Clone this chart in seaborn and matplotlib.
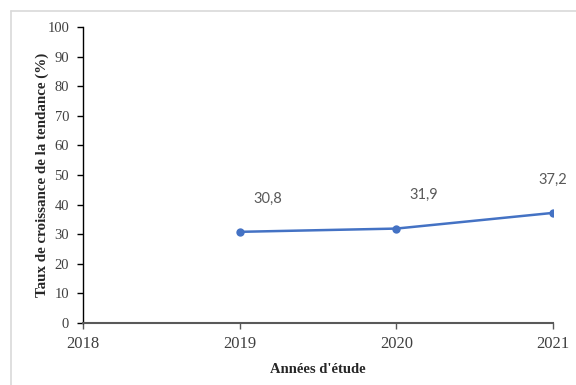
import matplotlib
matplotlib.use("Agg")
import matplotlib.pyplot as plt
import seaborn as sns
import pandas as pd
from matplotlib.lines import Line2D

years = [2019, 2020, 2021]
values = [30.8, 31.9, 37.2]
labels = ["30,8", "31,9", "37,2"]
xticks = [2018, 2019, 2020, 2021]
yticks = list(range(0, 101, 10))

sns.set_theme(style="white")
plt.rcParams['font.family'] = ['Liberation Serif', 'DejaVu Serif']

df = pd.DataFrame({"year": years, "value": values})

fig = plt.figure(figsize=(5.76, 3.85), dpi=100)
ax = fig.add_axes([83/576, 1-323/385, (553-83)/576, (323-27)/385])

sns.lineplot(data=df, x="year", y="value", ax=ax, color="#4472C4",
             linewidth=1.8, marker="o", markersize=6, markeredgewidth=0)

for x, y, t in zip(years, values, labels):
    ax.annotate(t, (x, y), xytext=(20, 24) if x != 2021 else (0, 24),
                textcoords="offset points", ha="center", va="center",
                fontsize=10.5, color="#595959", family=["Lato", "DejaVu Sans"],
                annotation_clip=False)

ax.set_xlim(2018, 2021)
ax.set_ylim(0, 100)
ax.set_xticks(xticks)
ax.set_xticklabels([str(v) for v in xticks], fontsize=12, color="#404040")
ax.set_yticks(yticks)
ax.set_yticklabels([str(v) for v in yticks], fontsize=10.5, color="#404040")

ax.set_xlabel("Années d'étude", fontsize=10.5, fontweight="bold", labelpad=8)
ax.set_ylabel("Taux de croissance de la tendance (%)", fontsize=10.8,
              fontweight="bold", labelpad=-1.5)

for s in ["top", "right"]:
    ax.spines[s].set_visible(False)
ax.spines["left"].set_color("black")
ax.spines["left"].set_linewidth(1.0)
ax.spines["bottom"].set_color("#595959")
ax.spines["bottom"].set_linewidth(1.5)
ax.tick_params(axis="y", which="both", left=True, length=4, width=1, color="black", pad=6)
ax.tick_params(axis="x", which="both", bottom=True, length=4, width=1, color="#595959", pad=5)

# outer light border
fig.add_artist(Line2D([11/576, 1], [1-11/385, 1-11/385], transform=fig.transFigure,
                      color="#d9d9d9", linewidth=1.2))
fig.add_artist(Line2D([11/576, 11/576], [0, 1-11/385], transform=fig.transFigure,
                      color="#d9d9d9", linewidth=1.2))

fig.savefig("out.png", dpi=100)
